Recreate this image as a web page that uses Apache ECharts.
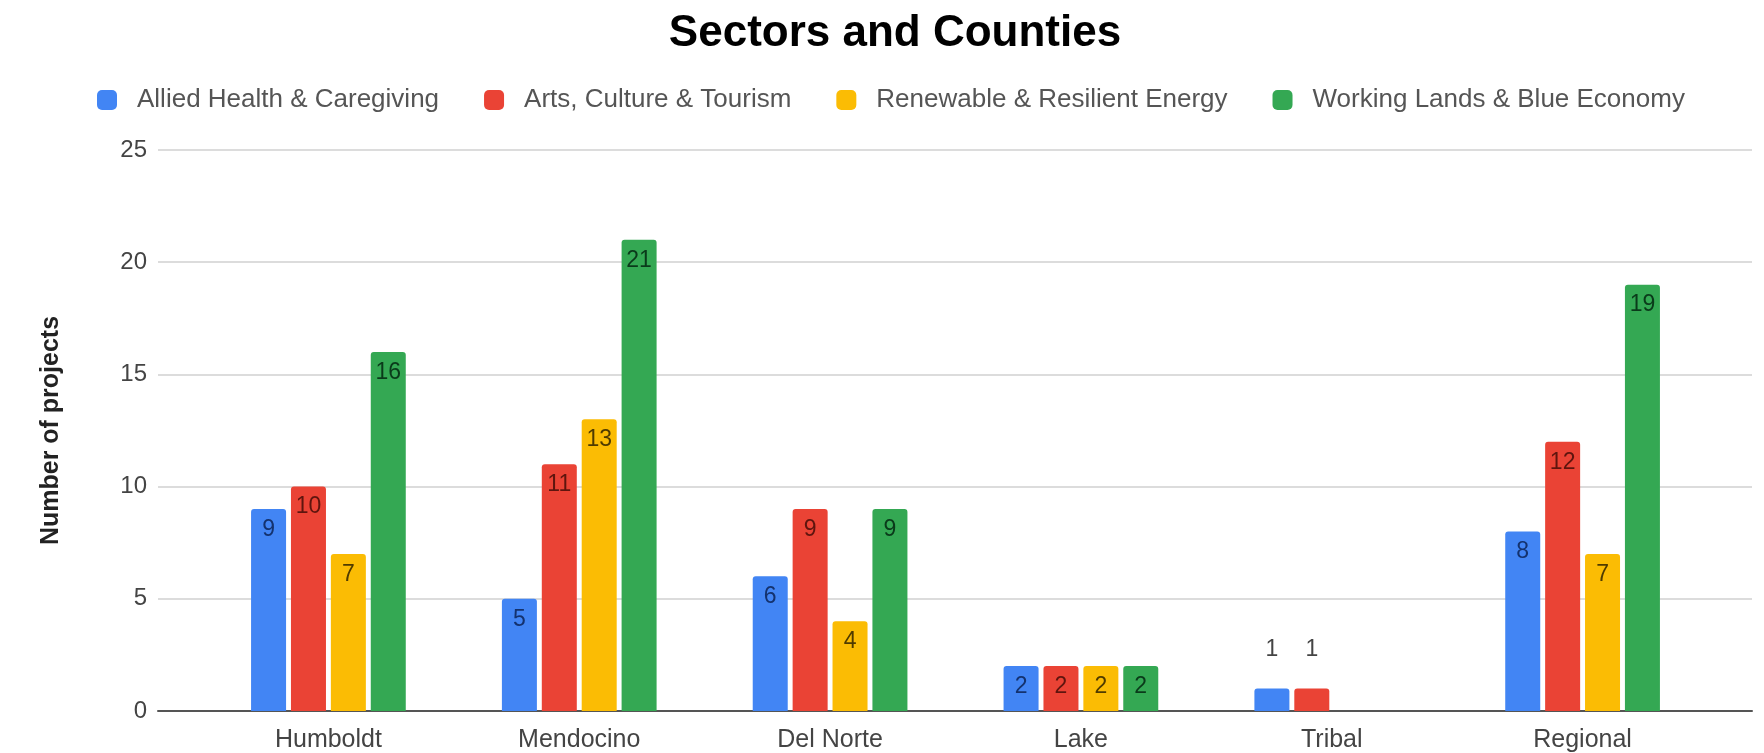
<!DOCTYPE html>
<html>
<head>
<meta charset="utf-8">
<script src="https://cdn.jsdelivr.net/npm/echarts@6/dist/echarts.min.js"></script>
<style>
html,body{margin:0;padding:0;background:#fff;}
#chart{width:1764px;height:753px;}
</style>
</head>
<body>
<div id="chart"></div>
<script>
const categories = ['Humboldt', 'Mendocino', 'Del Norte', 'Lake', 'Tribal', 'Regional'];
const seriesNames = ['Allied Health & Caregiving', 'Arts, Culture & Tourism', 'Renewable & Resilient Energy', 'Working Lands & Blue Economy'];
const alliedHealth = [9, 5, 6, 2, 1, 8];
const artsCulture = [10, 11, 9, 2, 1, 12];
const renewableEnergy = [7, 13, 4, 2, null, 7];
const workingLands = [16, 21, 9, 2, null, 19];
const yTicks = { min: 0, max: 25, interval: 5 };

const seriesValues = [alliedHealth, artsCulture, renewableEnergy, workingLands];
const colors = ['#4285F4', '#EA4335', '#FBBC04', '#34A853'];
const labelColors = ['#14326e', '#5e150e', '#4f3b00', '#0a3a1a'];
const FONT = '"Liberation Sans", Arial, sans-serif';

const chart = echarts.init(document.getElementById('chart'));

const series = seriesValues.map((vals, i) => ({
  name: seriesNames[i],
  type: 'bar',
  xAxisIndex: 1,
  yAxisIndex: 1,
  barWidth: 35,
  barGap: '14%',
  itemStyle: { color: colors[i], borderRadius: [3, 3, 0, 0] },
  label: {
    show: true,
    position: 'insideTop',
    distance: 9,
    fontSize: 23,
    fontFamily: FONT,
    color: labelColors[i]
  },
  data: vals.map(v => {
    if (v === null) return null;
    if (v < 2) {
      return { value: v, label: { position: 'top', distance: 27, color: '#444', fontSize: 23 } };
    }
    return v;
  })
}));

chart.setOption({
  animation: false,
  backgroundColor: '#fff',
  color: colors,
  title: {
    text: 'Sectors and Counties',
    left: 890,
    textAlign: 'center',
    top: 7,
    textStyle: { fontSize: 44, fontWeight: 'bold', color: '#000', fontFamily: FONT }
  },
  legend: {
    left: 92,
    top: 82,
    itemWidth: 20,
    itemHeight: 20,
    itemGap: 45,
    icon: 'roundRect',
    textStyle: { fontSize: 26, color: '#555', fontFamily: FONT, padding: [0, 0, 0, 15] },
    data: seriesNames
  },
  grid: [
    { left: 158, right: 12, top: 150, bottom: 42 },
    { left: 203, right: 56, top: 150, bottom: 42 }
  ],
  xAxis: [
    {
      gridIndex: 0, type: 'value', min: 0, max: 1,
      axisLine: { show: true, lineStyle: { color: '#555', width: 2 } },
      axisTick: { show: false }, axisLabel: { show: false }, splitLine: { show: false }
    },
    {
      gridIndex: 1, type: 'category', data: categories,
      axisLine: { show: false }, axisTick: { show: false },
      axisLabel: { fontSize: 25, color: '#444', margin: 17, fontFamily: FONT }
    }
  ],
  yAxis: [
    {
      gridIndex: 0, type: 'value', min: yTicks.min, max: yTicks.max, interval: yTicks.interval,
      axisLine: { show: false }, axisTick: { show: false },
      axisLabel: { fontSize: 24, color: '#444', margin: 11, fontFamily: FONT },
      splitLine: { lineStyle: { color: '#dcdcdc', width: 2 } },
      name: 'Number of projects',
      nameLocation: 'middle',
      nameGap: 94,
      nameTextStyle: { fontSize: 25, fontWeight: 'bold', color: '#222', fontFamily: FONT }
    },
    {
      gridIndex: 1, type: 'value', min: yTicks.min, max: yTicks.max, interval: yTicks.interval,
      show: false
    }
  ],
  series: series
});
</script>
</body>
</html>
